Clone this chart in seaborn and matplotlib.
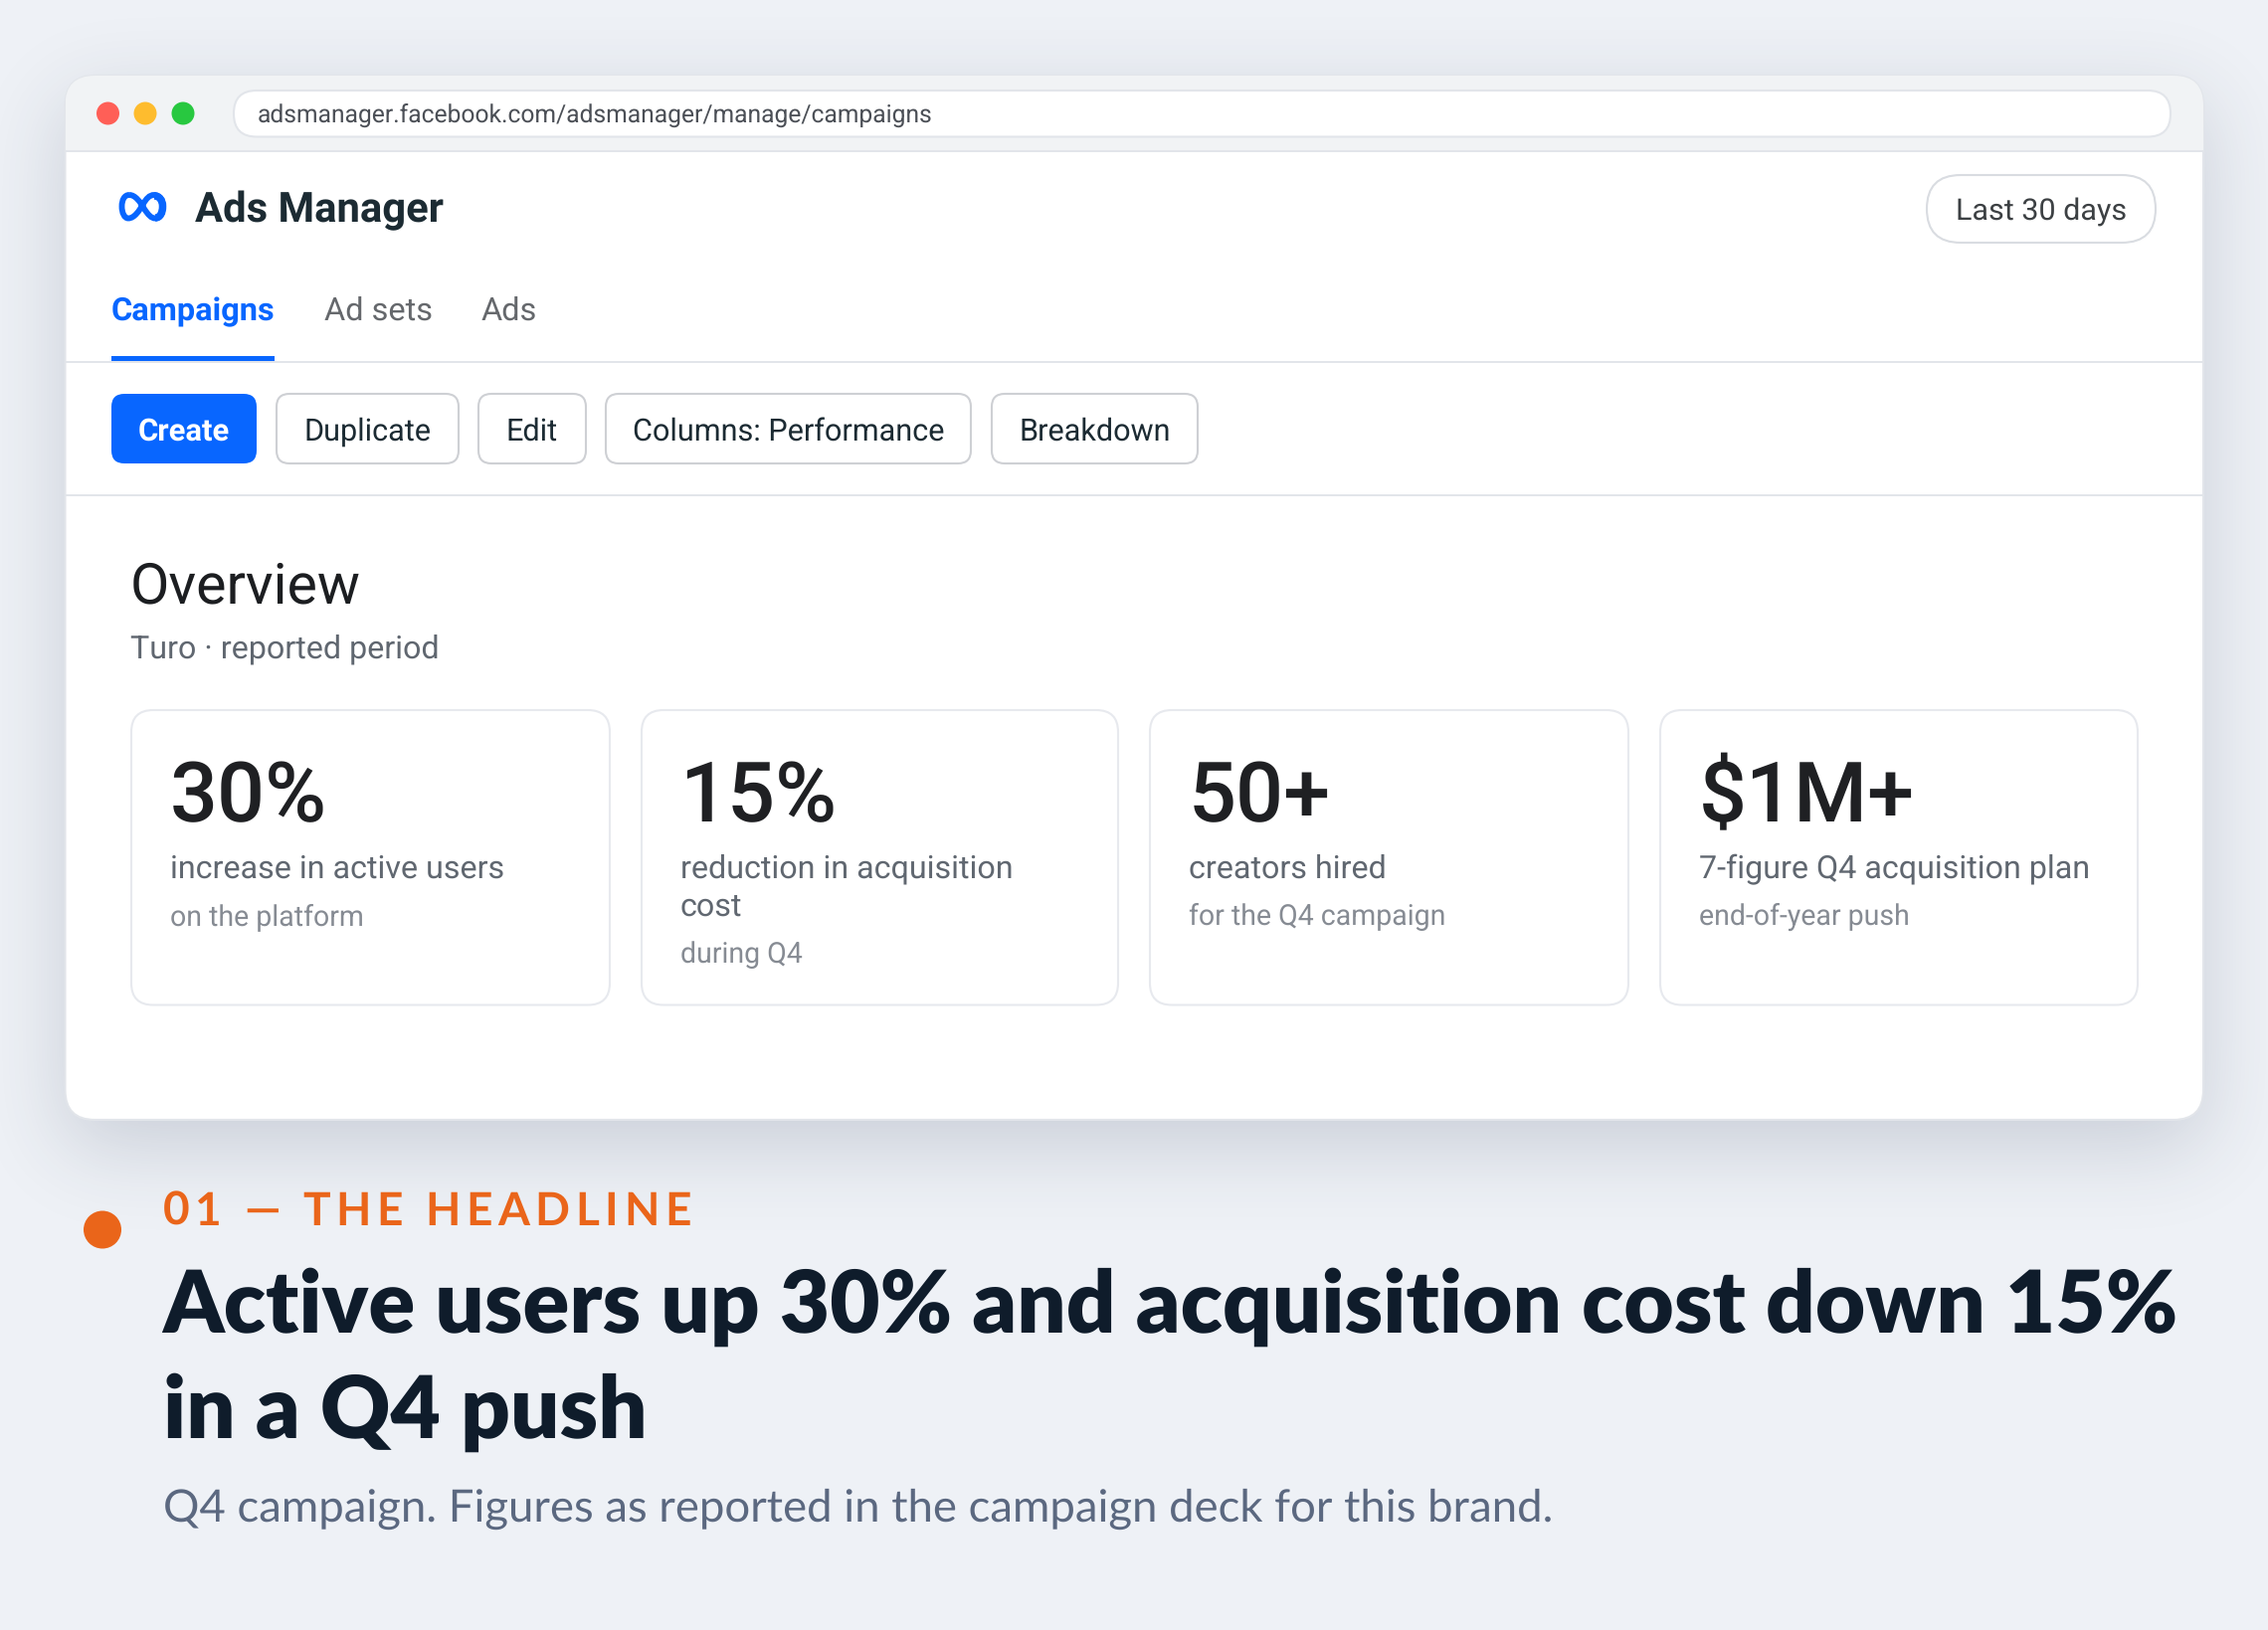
import numpy as np
import pandas as pd
import matplotlib
matplotlib.use("Agg")
import matplotlib.pyplot as plt
import seaborn as sns
from math import erf
from matplotlib.font_manager import FontProperties
from matplotlib.patches import FancyBboxPatch, Rectangle, PathPatch
from matplotlib.path import Path

# Data
url = "adsmanager.facebook.com/adsmanager/manage/campaigns"
app_name = "Ads Manager"
date_pill = "Last 30 days"
tabs = ["Campaigns", "Ad sets", "Ads"]
buttons = ["Create", "Duplicate", "Edit", "Columns: Performance", "Breakdown"]
overview_title = "Overview"
overview_sub = "Turo · reported period"
card_values = ["30%", "15%", "50+", "$1M+"]
card_labels = [["increase in active users"], ["reduction in acquisition", "cost"],
               ["creators hired"], ["7-figure Q4 acquisition plan"]]
card_notes = ["on the platform", "during Q4", "for the Q4 campaign", "end-of-year push"]
kicker = "01 — THE HEADLINE"
headline = ["Active users up 30% and acquisition cost down 15%", "in a Q4 push"]
subhead = "Q4 campaign. Figures as reported in the campaign deck for this brand."

# Setup
W, H = 2280, 1640
BG = "#eef1f6"
BLUE = "#0866ff"
ORANGE = "#ea651a"
sns.set_theme(style="white")
plt.rcParams["font.family"] = ["Roboto", "DejaVu Sans"]
plt.rcParams["text.hinting"] = "no_hinting"
plt.rcParams["text.hinting_factor"] = 8
fig = plt.figure(figsize=(W / 100, H / 100), dpi=100, facecolor=BG)
ax = fig.add_axes([0, 0, 1, 1])
ax.set_xlim(0, W)
ax.set_ylim(H, 0)
ax.axis("off")


def txt(x, y, s, px, color, ha="left", va="baseline", family="Roboto", weight="normal", z=6):
    return ax.text(x, y, s, fontsize=px * 0.72, color=color, ha=ha, va=va,
                   family=family, weight=weight, zorder=z)


def box(x0, y0, x1, y1, r, fc, ec="none", lw=0, z=3):
    p = FancyBboxPatch((x0, y0), x1 - x0, y1 - y0, boxstyle=f"round,pad=0,rounding_size={r}",
                       fc=fc, ec=ec, lw=lw, zorder=z)
    ax.add_patch(p)
    return p


def hline(y, x0, x1, color, h=2, z=4):
    ax.add_patch(Rectangle((x0, y - h / 2), x1 - x0, h, fc=color, ec="none", zorder=z))


# Window position
WX0, WX1, WY0, WY1 = 65.5, 2215, 77, 1127

# Soft shadow under the window
xs = np.arange(W) + 0.5
ys = np.arange(H) + 0.5
sx, sy, off = 42, 42, 26
verf = np.vectorize(erf)
fx = 0.5 * (verf((xs - WX0) / (sx * 2 ** 0.5)) - verf((xs - WX1) / (sx * 2 ** 0.5)))
fy = 0.5 * (verf((ys - WY0 - off) / (sy * 2 ** 0.5)) - verf((ys - WY1 - off) / (sy * 2 ** 0.5)))
shadow = np.zeros((H, W, 4))
shadow[..., :3] = matplotlib.colors.to_rgb("#1c2b4a")
shadow[..., 3] = 0.18 * np.outer(fy, fx)
ax.imshow(shadow, extent=(0, W, H, 0), aspect="auto", zorder=1, interpolation="nearest")
ax.set_xlim(0, W)
ax.set_ylim(H, 0)

# Window and top bar
win = box(WX0, WY0, WX1, WY1, 30, "white", "#e2e5ea", 1.5, z=2)
bar = Rectangle((WX0, WY0), WX1 - WX0, 75, fc="#f1f3f5", ec="none", zorder=2.5)
ax.add_patch(bar)
bar.set_clip_path(win)
hline(152.5, WX0, WX1, "#e2e5ea")
box(235, 92, 2182, 138.5, 23, "white", "#e2e5ea", 1.5)
txt(259, 113.5, url, 24.6, "#4b4f56", va="center_baseline")

# Traffic lights and orange bullet
dots = pd.DataFrame({"x": [108.5, 146, 184, 103], "y": [115, 115, 115, 1237.5],
                     "kind": ["red", "yellow", "green", "bullet"]})
sns.scatterplot(data=dots, x="x", y="y", hue="kind", ax=ax, legend=False, linewidth=0, zorder=6,
                palette={"red": "#ff5f57", "yellow": "#febc2e", "green": "#28c840", "bullet": ORANGE},
                size="kind", sizes={"red": (23 * .72) ** 2, "yellow": (23 * .72) ** 2,
                                    "green": (23 * .72) ** 2, "bullet": (38 * .72) ** 2})

# Meta logo, figure-of-eight stroke
M, C = Path.MOVETO, Path.CURVE4
logo = Path([(130, 197), (136, 197), (141, 204), (145, 211), (149, 217), (152, 220.5), (156, 220.5),
             (161, 220.5), (164, 215), (164, 208.5), (164, 202), (160, 197), (155, 197),
             (150, 197), (147, 201), (144, 206), (140, 213), (135, 220.5), (129, 220.5),
             (125, 220.5), (122.5, 215), (122.5, 208.5), (122.5, 202), (125, 197), (130, 197)],
            [M] + [C] * 24)
ax.add_patch(PathPatch(logo, fc="none", ec=BLUE, lw=4.2, zorder=6))
right = Path([(156, 220), (161, 220), (163.5, 215), (163.5, 208.5), (163.5, 202), (160, 198), (155, 198)],
             [M] + [C] * 6)
ax.add_patch(PathPatch(right, fc="none", ec=BLUE, lw=5.4, zorder=6))

# Header
txt(196, 223, app_name, 41.8, "#1c2b33", weight="bold")
box(1937, 177, 2167, 245, 34, "white", "#d9dce1", 1.5)
txt(2052, 209.5, date_pill, 30.5, "#3c4043", ha="center", va="center_baseline")

# Tabs
for name, x, col, wt in zip(tabs, [112, 325.5, 483.5], [BLUE, "#65686c", "#65686c"], ["bold", "normal", "normal"]):
    txt(x, 322, name, 32.5, col, weight=wt)
hline(364.5, WX0, WX1, "#e2e5ea")
ax.add_patch(Rectangle((112, 358.5), 164, 5.5, fc=BLUE, ec="none", zorder=5))

# Toolbar
button_x = [(112, 258), (278, 461), (481, 589), (609, 976), (997, 1204)]
for i, (name, (x0, x1)) in enumerate(zip(buttons, button_x)):
    if i == 0:
        box(x0, 397, x1, 467, 13, BLUE)
        txt((x0 + x1) / 2, 431, name, 31, "white", ha="center", va="center_baseline", weight="bold")
    else:
        box(x0, 397, x1, 467, 13, "white", "#ced0d4", 1.5)
        txt((x0 + x1) / 2, 431, name, 30.6, "#1c2b33", ha="center", va="center_baseline")
hline(498.5, WX0, WX1, "#e2e5ea")

# Overview
txt(131, 606.5, overview_title, 57.3, "#1c1e21")
txt(131, 662, overview_sub, 32.3, "#606770")

# Cards
card_x = [(132, 613), (645, 1124), (1156, 1637), (1669, 2149)]
for (x0, x1), val, lab, note in zip(card_x, card_values, card_labels, card_notes):
    box(x0, 715, x1, 1011.5, 22, "white", "#e7e9ee", 1.5)
    tx = x0 + 39
    txt(tx - 0.5, 826.5, val, 84.5, "#1f2023", weight="medium")
    for j, line in enumerate(lab):
        txt(tx, 883 + j * 38, line, 32.3, "#606770")
    txt(tx, 930 + (len(lab) - 1) * 38, note, 28.5, "#868b93")

# Kicker with letter spacing
renderer = fig.canvas.get_renderer()
fp = FontProperties(family="Lato", weight="bold", size=46 * 0.72)
spacing = 5.6
for i, ch in enumerate(kicker):
    w, _, _ = renderer.get_text_width_height_descent(kicker[:i] or " ", fp, False)
    x = 163.5 + (w if i else 0) + i * spacing
    ax.text(x, 1232, ch, fontproperties=fp, color=ORANGE, va="baseline", zorder=6)

# Headline
txt(163.5, 1339.5, headline[0], 86.9, "#0f1c2b", family="Lato", weight="heavy")
txt(163.5, 1445.5, headline[1], 86.9, "#0f1c2b", family="Lato", weight="heavy")
txt(164, 1530, subhead, 45.5, "#5b6880", family="Lato")

fig.savefig("out.png", dpi=100, facecolor=BG)
